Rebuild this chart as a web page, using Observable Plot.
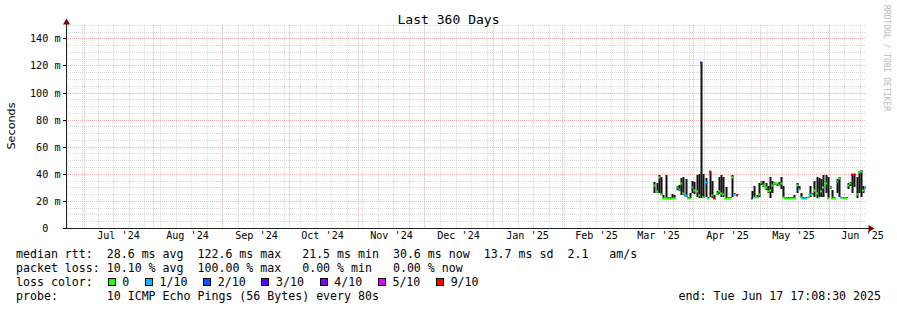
<!DOCTYPE html>
<html><head><meta charset="utf-8">
<script src="https://cdn.jsdelivr.net/npm/d3@7"></script>
<script src="https://cdn.jsdelivr.net/npm/@observablehq/plot@0.6"></script>
<style>
body{margin:0;background:#fff;}
#wrap{position:relative;width:897px;height:310px;overflow:hidden;font-family:"DejaVu Sans Mono",monospace;color:#000;background:#fff;}
#chart{position:absolute;left:0;top:0;}
.t{position:absolute;white-space:pre;font-size:11.6px;line-height:14px;}
#title{position:absolute;left:0;width:897px;top:11.5px;text-align:center;font-size:13.05px;line-height:15px;white-space:pre;}
#ylab{position:absolute;font-family:"DejaVu Sans",sans-serif;font-size:11.2px;left:11px;top:126px;transform:translate(-50%,-50%) rotate(-90deg);white-space:pre;}
#wm{position:absolute;font-size:8px;color:#b8b8b8;left:886px;top:5px;transform-origin:0 0;transform:translate(5px,0) rotate(90deg);white-space:pre;}
.sw{display:inline-block;width:6px;height:6px;border:1px solid #000;vertical-align:-0.5px;}
.row{position:absolute;display:flex;align-items:center;font-size:11.6px;line-height:14px;white-space:pre;}
</style></head>
<body><div id="wrap"></div>
<script>
// ---- data ----
const titleText = "Last 360 Days";
const yLabel = "Seconds";
const rangeStart = "2024-06-22T17:08:30Z";
const rangeEnd = "2025-06-17T17:08:30Z";
const yTicks = [0, 20, 40, 60, 80, 100, 120, 140];
const monthTickDates = ["2024-07-16","2024-08-16","2024-09-16","2024-10-16","2024-11-16","2024-12-16","2025-01-16","2025-02-16","2025-03-16","2025-04-16","2025-05-16","2025-06-16"];
const monthTickLabels = ["Jul '24","Aug '24","Sep '24","Oct '24","Nov '24","Dec '24","Jan '25","Feb '25","Mar '25","Apr '25","May '25","Jun '25"];
const lossLabels = ["0","1/10","2/10","3/10","4/10","5/10","9/10"];
const lossColors = ["#26ff00","#00b8ff","#0059ff","#5e00ff","#7e00ff","#dd00ff","#ff0000"];

const days = ["2025-03-14","2025-03-15","2025-03-16","2025-03-17","2025-03-18","2025-03-19","2025-03-20","2025-03-21","2025-03-22","2025-03-23","2025-03-24","2025-03-25","2025-03-26","2025-03-27","2025-03-28","2025-03-29","2025-03-30","2025-03-31",
"2025-04-01","2025-04-02","2025-04-03","2025-04-04","2025-04-05","2025-04-06","2025-04-07","2025-04-08","2025-04-09","2025-04-10","2025-04-11","2025-04-12","2025-04-13","2025-04-14","2025-04-15","2025-04-16","2025-04-17","2025-04-18","2025-04-19","2025-04-20",
"2025-04-27","2025-04-28","2025-04-29","2025-04-30",
"2025-05-01","2025-05-02","2025-05-03","2025-05-04","2025-05-05","2025-05-06","2025-05-07","2025-05-08","2025-05-09","2025-05-10","2025-05-11","2025-05-12","2025-05-13","2025-05-14","2025-05-15","2025-05-16","2025-05-17","2025-05-18","2025-05-19","2025-05-20","2025-05-21","2025-05-22","2025-05-23","2025-05-24","2025-05-25","2025-05-26","2025-05-27","2025-05-28","2025-05-29","2025-05-30","2025-05-31",
"2025-06-01","2025-06-02","2025-06-03","2025-06-04","2025-06-05","2025-06-06","2025-06-07","2025-06-08","2025-06-09","2025-06-10","2025-06-11","2025-06-12","2025-06-13","2025-06-14","2025-06-15","2025-06-16","2025-06-17"];
// smoke low / high, median (ms) and loss class index
const smokeLo = [26,26,26,24,22,22,22,22,22,22,28,27,24,24,23,22,22,26,
25,23,22,22,22,23,22,23,22,22,24,25,23,23,22,22,22,23,24,24,
22,22,22,23,
32,30,28,26,22,26,32,31,31,29,22,22,22,22,22,22,26,28,22,22,22,22,23,24,23,22,23,23,23,26,22,
29,22,22,26,23,22,22,22,29,31,26,30,22,26,23,26,29];
const smokeHi = [34,33,39,38,24,39,23,23,25,24,31,32,37,38,36,23,26,35,
34,39,40,122.6,40,37,23,42,35,24,27,38,39,38,30,23,23,39,26,25,
27,31,24,33,
35,35,33,31,38,35,34,33,34,38,31,23,23,23,23,24,33,31,26,23,23,23,31,26,35,38,37,36,39,39,38,
31,28,23,36,38,23,23,23,33,34,40,40,38,42,43,31,31];
const median = [32,27,38,25,22,22,22,22,22,22,30,29,33,26,24,22,22,30,
28,27,24,122.6,23,34,22,42,24,22,26,27,26,25,22,22,22,38,25,24,
22,23,23,25,
34,32,30,27,28,32,33,33,32,33,23,22,22,22,22,22,32,29,23,22,22,23,25,25,28,26,23,27,30,33,22,
30,22,22,35,37,23,22,22,32,33,40,40,25,41,42,28,30];
const lossIdx = [0,0,0,0,0,0,0,0,0,0,0,1,0,0,1,0,0,1,
0,0,0,3,0,1,0,6,0,6,0,0,0,0,0,0,0,0,1,6,
3,0,0,0,
0,0,0,0,0,0,0,0,0,0,0,0,0,0,0,0,0,1,0,1,1,0,1,0,0,0,0,0,0,0,0,
0,0,0,1,0,1,0,0,0,0,6,6,0,0,0,0,1];

const statsLine1 = "median rtt:  28.6 ms avg  122.6 ms max   21.5 ms min  30.6 ms now  13.7 ms sd  2.1   am/s";
const statsLine2 = "packet loss: 10.10 % avg  100.00 % max   0.00 % min   0.00 % now";
const lossLine = "loss color:  ";
const probeLine = "probe:       10 ICMP Echo Pings (56 Bytes) every 80s";
const endLine = "end: Tue Jun 17 17:08:30 2025";
const watermark = "RRDTOOL / TOBI OETIKER";

// ---- build ----
const t0 = new Date(rangeStart), t1 = new Date(rangeEnd);
const bins = days.map((d, i) => {
  const a = new Date(d + "T00:00:00Z");
  return {a, b: d3.utcDay.offset(a, 1), m: d3.utcHour.offset(a, 12), lo: smokeLo[i], hi: smokeHi[i], med: median[i], loss: lossIdx[i]};
});
const tickDates = monthTickDates.map(d => new Date(d + "T00:00:00Z"));
const minorV = d3.utcSunday.range(t0, t1);
const majorV = d3.utcMonth.range(t0, t1);
const minorH = d3.range(5, 151, 5).filter(v => v % 20 !== 0);
const majorH = yTicks.filter(v => v > 0);

const gridGray = "#d6d6d6", gridRed = "#f4b0b0";
const chart = Plot.plot({
  width: 897, height: 245,
  marginLeft: 66, marginRight: 31, marginTop: 24.75, marginBottom: 17,
  style: {fontFamily: "DejaVu Sans Mono, monospace", fontSize: "10.15px", color: "#000", background: "#fff", overflow: "visible"},
  x: {type: "utc", domain: [t0, t1], round: true, ticks: tickDates, tickSize: 0, tickPadding: 3,
      tickFormat: d => monthTickLabels[tickDates.findIndex(t => +t === +d)], label: null},
  y: {domain: [0, 150], round: true, ticks: yTicks, tickSize: 3, tickPadding: 3,
      tickFormat: d => d === 0 ? "0\u00a0\u00a0" : `${d} m`, label: null},
  marks: [
    Plot.ruleX(minorV, {stroke: gridGray, strokeDasharray: "1,1"}),
    Plot.ruleY(minorH, {stroke: gridGray, strokeDasharray: "1,1"}),
    Plot.ruleX(majorV, {stroke: gridRed, strokeDasharray: "1,1"}),
    Plot.ruleY(majorH, {stroke: gridRed, strokeDasharray: "1,1"}),
    Plot.ruleX(bins, {x: "m", y1: "lo", y2: "hi", stroke: "#111", strokeWidth: 2, clip: true}),
    Plot.ruleY(bins, {x1: "a", x2: "b", y: "med", stroke: d => lossColors[d.loss], strokeWidth: 2, clip: true}),
    Plot.ruleY([0], {stroke: "#222", insetRight: -3}),
    Plot.ruleX([t0], {stroke: "#222", insetTop: -3}),
    Plot.dot([t1], {x: d => d, y: () => 0, symbol: "triangle", rotate: 90, r: 2.6, fill: "#7f0000", dx: 4}),
    Plot.dot([t0], {x: d => d, y: () => 150, symbol: "triangle", r: 2.6, fill: "#7f0000", dy: -3})
  ]
});
const wrap = document.getElementById("wrap");
chart.id = "chart";
wrap.appendChild(chart);

function addDiv(cls, id, text, left, top) {
  const el = document.createElement("div");
  if (cls) el.className = cls;
  if (id) el.id = id;
  el.textContent = text;
  if (left != null) el.style.left = left + "px";
  if (top != null) el.style.top = top + "px";
  wrap.appendChild(el);
  return el;
}
addDiv(null, "title", titleText);
addDiv(null, "ylab", yLabel);
addDiv(null, "wm", watermark);
addDiv("t", null, statsLine1, 16, 247);
addDiv("t", null, statsLine2, 16, 261);
const row = document.createElement("div");
row.className = "row"; row.style.left = "16px"; row.style.top = "275px";
const lead = document.createElement("span"); lead.textContent = lossLine; row.appendChild(lead);
lossLabels.forEach((lab, i) => {
  const sw = document.createElement("span"); sw.className = "sw"; sw.style.background = lossColors[i];
  sw.style.marginLeft = i === 0 ? "1px" : "15.8px"; sw.style.marginRight = "6.5px";
  row.appendChild(sw);
  const s = document.createElement("span"); s.textContent = lab; row.appendChild(s);
});
wrap.appendChild(row);
addDiv("t", null, probeLine, 16, 289);
const endEl = addDiv("t", null, endLine, null, 289);
endEl.style.right = (897 - 881) + "px";
</script></body></html>
